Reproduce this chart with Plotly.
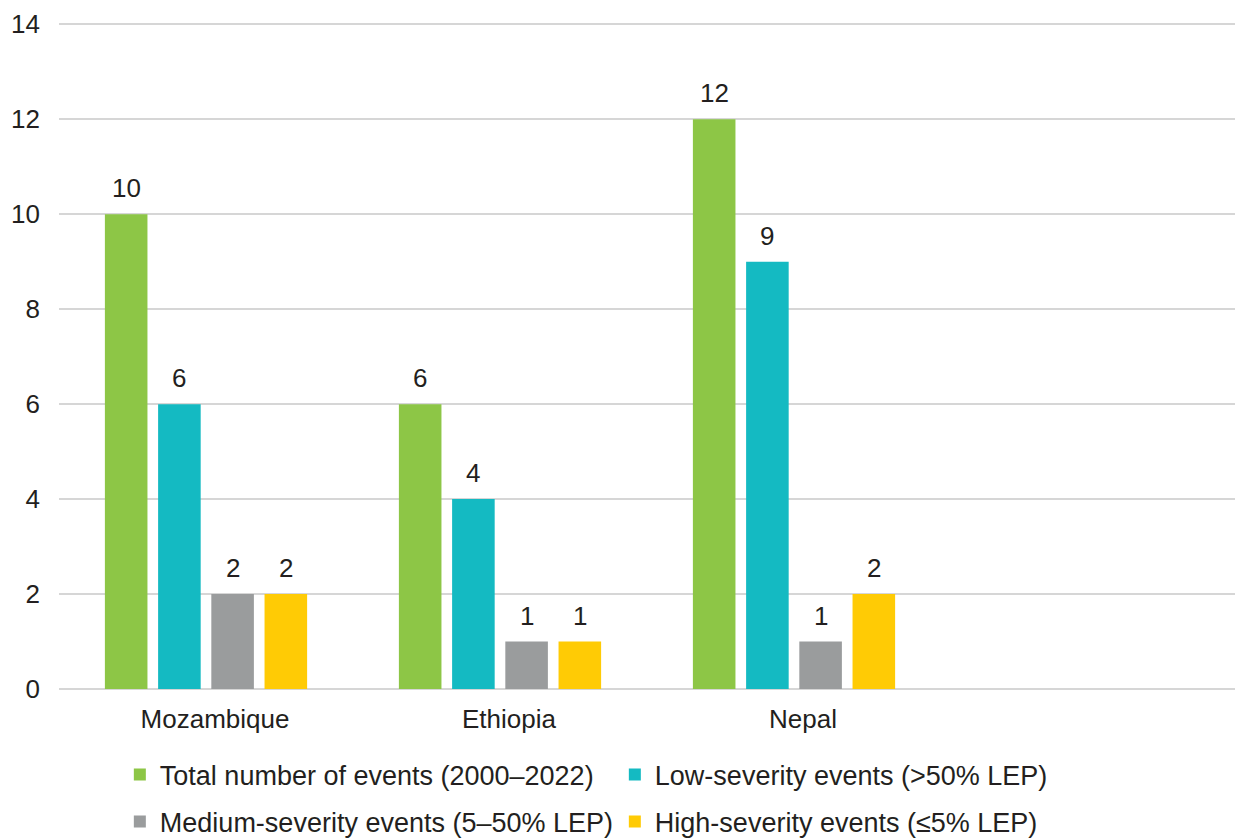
import plotly.graph_objects as go

countries = ["Mozambique", "Ethiopia", "Nepal"]
series_names = [
    "Total number of events (2000–2022)",
    "Low-severity events (>50% LEP)",
    "Medium-severity events (5–50% LEP)",
    "High-severity events (≤5% LEP)",
]
total_events = [10, 6, 12]
low_severity = [6, 4, 9]
medium_severity = [2, 1, 1]
high_severity = [2, 1, 2]
series_values = [total_events, low_severity, medium_severity, high_severity]
series_colors = ["#8DC646", "#14BAC2", "#9A9C9D", "#FFCB05"]
y_ticks = [0, 2, 4, 6, 8, 10, 12, 14]

FONT = "Liberation Sans"
TEXT = "#231F20"
BARGAP = 0.276
GROUPGAP = 0.2

x_pos = list(range(len(countries)))
legend_ids = ["legend", "legend", "legend2", "legend2"]

fig = go.Figure()
for name, vals, color, lg in zip(series_names, series_values, series_colors, legend_ids):
    fig.add_trace(go.Bar(
        x=x_pos, y=vals, name=name, marker_color=color,
        marker_line_width=0, legend=lg,
    ))

# value labels above each bar, placed at the bar's slot in its group
n = len(series_values)
slot = (1 - BARGAP) / n
for j, vals in enumerate(series_values):
    offset = -(1 - BARGAP) / 2 + slot * (j + 0.5)
    for i, v in enumerate(vals):
        fig.add_annotation(
            x=x_pos[i] + offset, y=v, text=str(v), showarrow=False,
            yanchor="bottom", yshift=9,
            font=dict(family=FONT, size=26, color=TEXT),
        )

legend_common = dict(
    orientation="h", xref="container", yref="container",
    xanchor="left", yanchor="middle", entrywidth=450,
    font=dict(family=FONT, size=27, color=TEXT),
    bgcolor="rgba(0,0,0,0)", itemclick=False, itemdoubleclick=False,
)

fig.update_layout(
    width=1238, height=838,
    margin=dict(l=59, r=3, t=22, b=149),
    paper_bgcolor="white", plot_bgcolor="white",
    barmode="group", bargap=BARGAP, bargroupgap=GROUPGAP,
    font=dict(family=FONT, size=26, color=TEXT),
    legend=dict(x=0.0968, y=1 - 775 / 838, **legend_common),
    legend2=dict(x=0.0968, y=1 - 822 / 838, **legend_common),
    xaxis=dict(
        range=[-0.5, 3.5], tickvals=x_pos, ticktext=countries,
        showgrid=False, zeroline=False, showline=False, ticks="",
        ticklabelstandoff=12, ticklabelshift=9, fixedrange=True,
        tickfont=dict(family=FONT, size=26, color=TEXT),
    ),
    yaxis=dict(
        range=[0, 14.05], tickvals=y_ticks, showgrid=True,
        gridcolor="#D6D6D6", gridwidth=2, zeroline=True,
        zerolinecolor="#D6D6D6", zerolinewidth=2, showline=False,
        ticks="", ticklabelstandoff=18, fixedrange=True,
        tickfont=dict(family=FONT, size=26, color=TEXT),
    ),
)

fig.write_html("out.html")
